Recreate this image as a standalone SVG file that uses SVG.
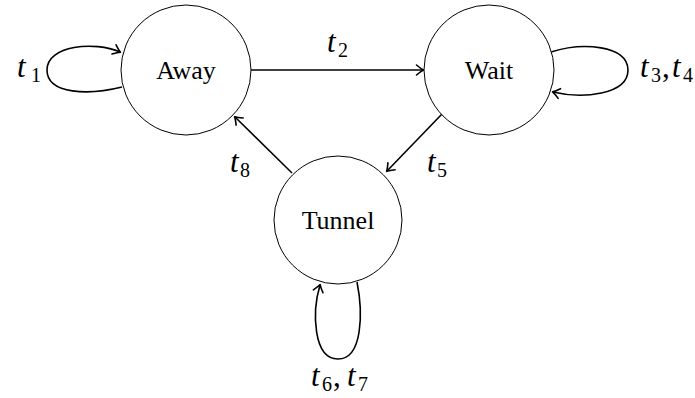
<svg xmlns="http://www.w3.org/2000/svg" width="695" height="398" viewBox="0 0 695 398">
<style>
.node{fill:#fff;stroke:#000;stroke-width:1}
.lbl{font-family:"Liberation Serif","DejaVu Serif",serif;font-size:26px;text-anchor:middle;dominant-baseline:central}
.edge{fill:none;stroke:#000;stroke-width:1.6}
.m{font-family:"Liberation Serif","DejaVu Serif",serif;font-size:31px}
.t{font-style:italic}
.s{font-size:20px}
</style>
<defs>
<marker id="arr" markerUnits="userSpaceOnUse" markerWidth="14" markerHeight="14" viewBox="-8 -7 10 14" refX="0" refY="0" orient="auto">
<path d="M -6.5 -5 Q -2 -1.2 0.5 0 Q -2 1.2 -6.5 5" fill="none" stroke="#000" stroke-width="1.6" stroke-linecap="round" stroke-linejoin="round"/>
</marker>
</defs>
<g id="connectors">
<path class="edge" d="M 251 70 L 423 70" marker-end="url(#arr)"/>
<path class="edge" d="M 442 114 L 387 171" marker-end="url(#arr)"/>
<path class="edge" d="M 292 173 L 235 117" marker-end="url(#arr)"/>
<path class="edge" d="M 122 87 C 90 95, 47 95, 47 70 C 47 45, 95 41, 120 52" marker-end="url(#arr)"/>
<path class="edge" d="M 551 52 C 582 42, 628 45, 628 70 C 628 95, 582 99, 553 92" marker-end="url(#arr)"/>
<path class="edge" d="M 357 282 C 363 312, 363 359, 338 359 C 313 359, 312 312, 320 285" marker-end="url(#arr)"/>
<text class="m"><tspan class="t" x="17" y="77">t</tspan><tspan class="s" x="31" y="82">1</tspan></text>
<text class="m"><tspan class="t" x="327" y="52">t</tspan><tspan class="s" x="338" y="57">2</tspan></text>
<text class="m"><tspan class="t" x="640" y="77">t</tspan><tspan class="s" x="651" y="82">3</tspan><tspan x="662" y="77">,</tspan><tspan class="t" x="672" y="77">t</tspan><tspan class="s" x="683" y="82">4</tspan></text>
<text class="m"><tspan class="t" x="427" y="172">t</tspan><tspan class="s" x="437" y="177">5</tspan></text>
<text class="m"><tspan class="t" x="230" y="172">t</tspan><tspan class="s" x="240" y="177">8</tspan></text>
<text class="m"><tspan class="t" x="311" y="386">t</tspan><tspan class="s" x="322" y="391">6</tspan><tspan x="333" y="386">,</tspan><tspan class="t" x="347" y="386">t</tspan><tspan class="s" x="358" y="391">7</tspan></text>
</g>
<g id="away"><circle class="node" cx="186" cy="70" r="65"/><text class="lbl" x="186" y="70">Away</text></g>
<g id="wait"><circle class="node" cx="489" cy="70" r="65"/><text class="lbl" x="489" y="70">Wait</text></g>
<g id="tunnel"><circle class="node" cx="338" cy="220" r="64"/><text class="lbl" x="338" y="220">Tunnel</text></g>
</svg>
